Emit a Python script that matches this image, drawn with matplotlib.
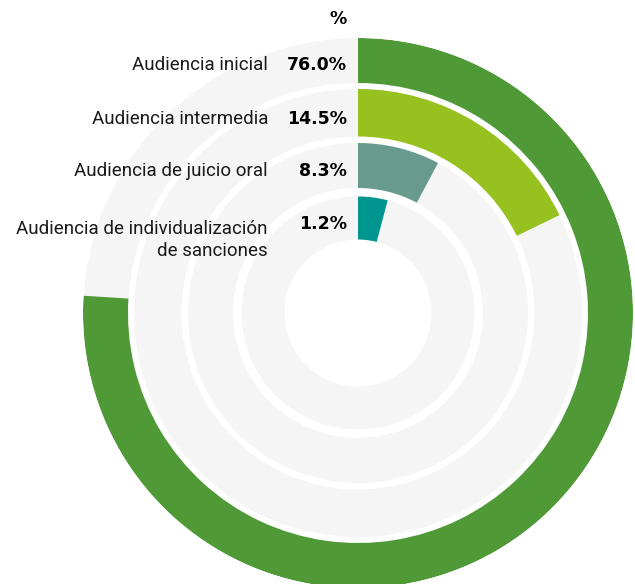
import numpy as np
import matplotlib.pyplot as plt
from matplotlib.transforms import offset_copy

# categories and values shown in the labels
categories = ["Audiencia inicial", "Audiencia intermedia", "Audiencia de juicio oral",
              "Audiencia de individualización\nde sanciones"]
values = [76.0, 14.5, 8.3, 1.2]
# share of the circle each arc actually covers in the picture (percent)
arc_share = [76.0, 17.8, 7.8, 4.1]
colors = ["#4f9a37", "#97c11f", "#689b8e", "#00968f"]

# ring radii in pixels (outer, inner)
r_outer = [275, 224, 170, 116.5]
r_inner = [230, 176.5, 125, 73.5]

plt.rcParams['font.family'] = ['Roboto', 'DejaVu Sans']

fig = plt.figure(figsize=(6.35, 5.84), dpi=100)
cx, cy = 358, 584 - 313
R = 275
ax = fig.add_axes([(cx - R) / 635, (cy - R) / 584, 2 * R / 635, 2 * R / 584], projection='polar')
ax.set_theta_zero_location('N')
ax.set_theta_direction(-1)
ax.set_ylim(0, R)
ax.axis('off')

for ro, ri, share, col in zip(r_outer, r_inner, arc_share, colors):
    # light grey track
    ax.bar(0, ro - ri, width=2 * np.pi, bottom=ri, color="#f5f5f5",
           align='edge', linewidth=0)
    ax.bar(0, ro - ri, width=share / 100 * 2 * np.pi, bottom=ri, color=col,
           align='edge', linewidth=0)

val_tr = offset_copy(ax.transData, fig=fig, x=-11, y=0, units='dots')
cat_tr = offset_copy(ax.transData, fig=fig, x=-90, y=0, units='dots')
for i, (ro, ri, cat, v) in enumerate(zip(r_outer, r_inner, categories, values)):
    rc = (ro + ri) / 2 - 4 + (2 if i == 0 else 0)
    ax.text(0, rc, f"{v:.1f}%", transform=val_tr, ha='right', va='center_baseline',
            fontsize=12.5, fontweight='bold', color="#000000", family='DejaVu Sans')
    if "\n" in cat:
        ax.text(0, rc - 18, cat, transform=cat_tr, ha='right', va='center',
                fontsize=13.5, color="#1a1a1a", linespacing=1.3)
    else:
        ax.text(0, rc, cat, transform=cat_tr, ha='right', va='center_baseline',
                fontsize=13.5, color="#1a1a1a")

fig.text((cx - 11) / 635, 1 - 17 / 584, "%", ha='right', va='center_baseline',
         fontsize=12.5, fontweight='bold', color="#000000", family='DejaVu Sans')

fig.savefig("out.png", dpi=100)
